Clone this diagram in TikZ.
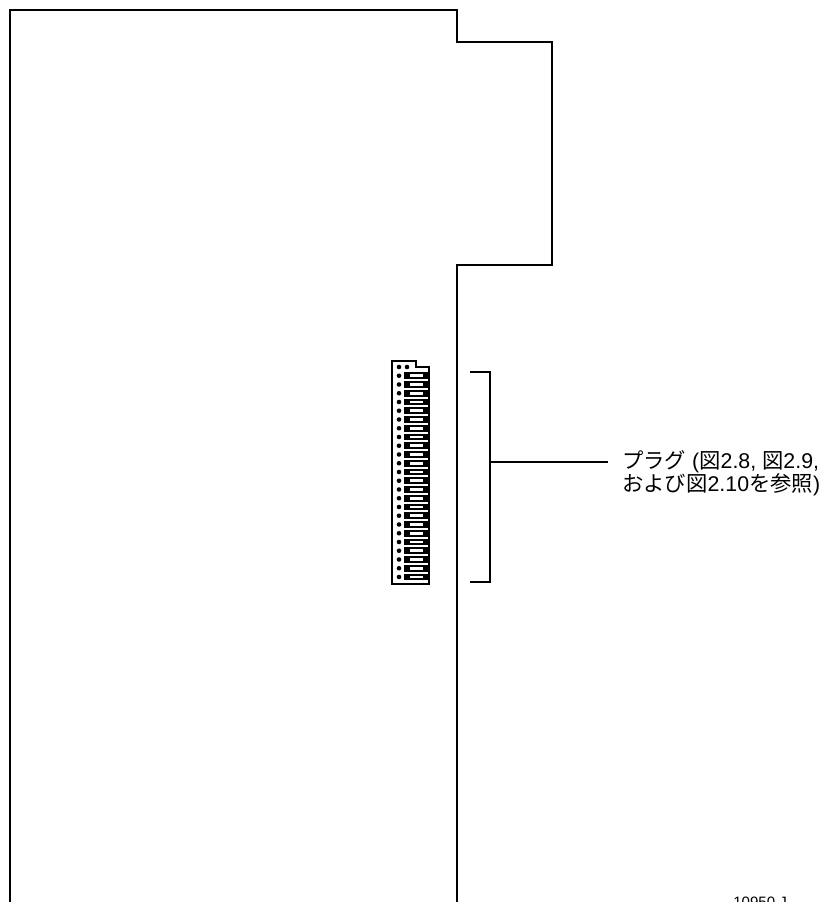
\documentclass[tikz,border=0pt]{standalone}
\usepackage{fontspec}
\setmainfont{Liberation Sans}
\newfontfamily\cjk{Noto Sans CJK JP}
\tikzset{
  outline/.style={draw=black,line width=1.5pt,line join=miter},
  thin outline/.style={draw=black,line width=1.2pt,fill=white},
  label text/.style={anchor=west,inner sep=0pt,font=\fontsize{16}{16}\selectfont,text=black},
  code text/.style={anchor=base west,inner sep=0pt,font=\fontsize{11.3}{11.3}\selectfont,text=black},
  pin/.style={fill=black,draw=none},
  block/.style={fill=black,draw=none},
  slit/.style={fill=white,draw=none}
}
\begin{document}
\begin{tikzpicture}[x=0.75pt,y=-0.75pt]
\useasboundingbox (0,0) rectangle (824,902);
% board
\draw[outline] (10,903) -- (10,10) -- (457,10) -- (457,42) -- (552,42) -- (552,265) -- (457,265) -- (457,903);
% plug body
\draw[thin outline] (392,361) -- (416,361) -- (416,367) -- (429,367) -- (429,584) -- (392,584) -- cycle;
\fill[pin] (399,367) circle (2.3);
\fill[pin] (407,367) circle (2.3);
\foreach \i in {1,...,24}{
  \pgfmathsetmacro{\yy}{367+8.75*\i}
  \fill[pin] (399,\yy) circle (2.3);
  \fill[block] (404,\yy-3.3) rectangle (428,\yy+3.3);
  \fill[slit] (410,\yy-1.3) rectangle (423,\yy+1.3);
}
% bracket
\coordinate (bt) at (470,372);
\coordinate (bb) at (470,582);
\coordinate (lead) at (490,462);
\draw[outline] (bt) -- (490,372) -- (490,582) -- (bb);
\node[label text] (lab1) at (622,462) {{\cjk プラグ} ({\cjk 図}2.8, {\cjk 図}2.9,};
\node[label text] (lab2) at (622,485) {{\cjk および図}2.10{\cjk を参照})};
\coordinate (leadend) at (608,462);
\draw[outline] (lead) -- (leadend);
\node[code text] (code) at (733,907) {10950 J};
\end{tikzpicture}
\end{document}
